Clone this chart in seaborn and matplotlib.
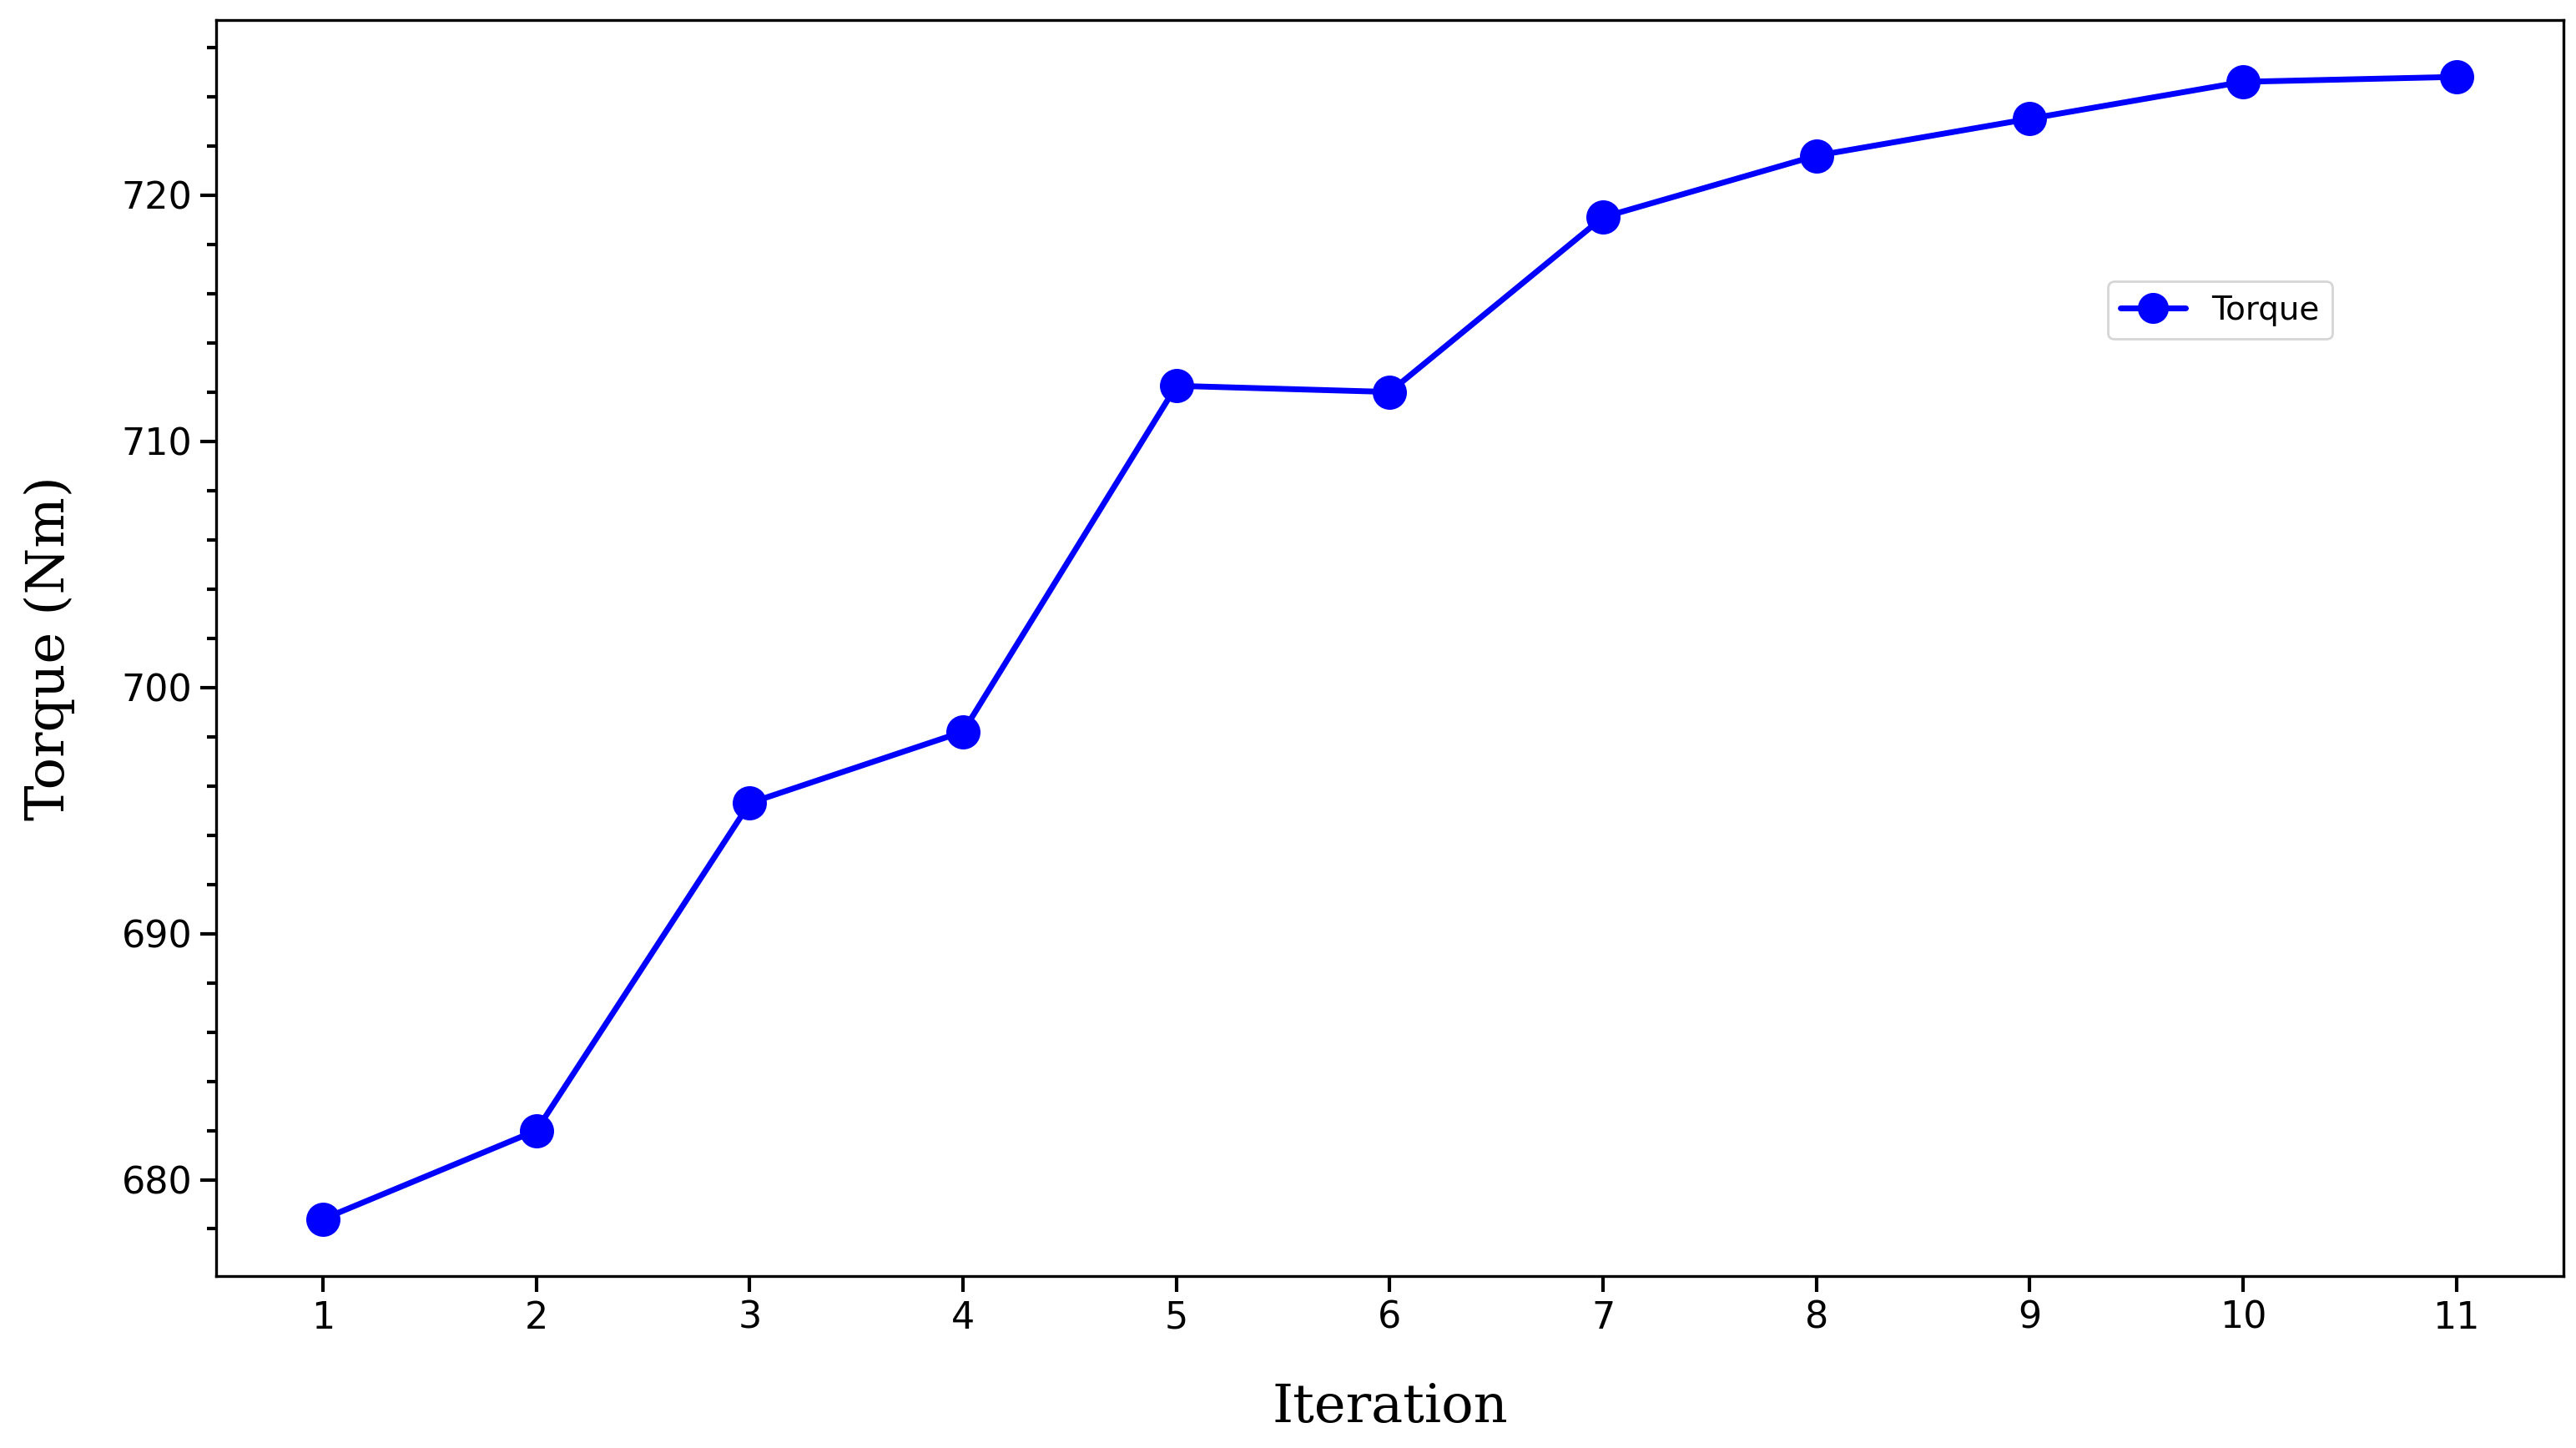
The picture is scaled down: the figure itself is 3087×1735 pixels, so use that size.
import matplotlib
matplotlib.use('Agg')
import matplotlib.pyplot as plt
import seaborn as sns
import pandas as pd
from matplotlib.ticker import MultipleLocator

# Data
iterations = [1, 2, 3, 4, 5, 6, 7, 8, 9, 10, 11]
torque = [678.4, 682.0, 695.3, 698.2, 712.25, 712.0, 719.1, 721.6, 723.1, 724.6, 724.8]

df = pd.DataFrame({'Iteration': iterations, 'Torque': torque})

sns.set_style('ticks')
fig = plt.figure(figsize=(15.435, 8.675), dpi=200)
ax = fig.add_axes([0.084, 0.119, 0.911, 0.867])

sns.lineplot(data=df, x='Iteration', y='Torque', ax=ax, color='blue',
             marker='o', markersize=14, linewidth=2.5, markeredgecolor='blue',
             label='Torque')

ax.set_xlim(0.5, 11.5)
ax.set_ylim(676.1, 727.1)
ax.set_xticks(iterations)
ax.yaxis.set_major_locator(MultipleLocator(10))
ax.yaxis.set_minor_locator(MultipleLocator(2))
ax.tick_params(axis='both', which='major', labelsize=16, length=7, width=1.5,
               direction='out', colors='black')
ax.tick_params(axis='y', which='minor', length=4, width=1.5, colors='black')
for s in ax.spines.values():
    s.set_linewidth(1.2)
    s.set_color('black')

ax.set_xlabel('Iteration', family='DejaVu Serif', fontsize=23, labelpad=20, color='black')
ax.set_ylabel('Torque (Nm)', family='DejaVu Serif', fontsize=23, labelpad=20, color='black')

leg = ax.legend(loc='center left', bbox_to_anchor=(0.799, 0.769), fontsize=14,
                frameon=True, markerscale=0.9)
for t in leg.get_texts():
    t.set_color('black')

fig.savefig('out.png', dpi=200)
